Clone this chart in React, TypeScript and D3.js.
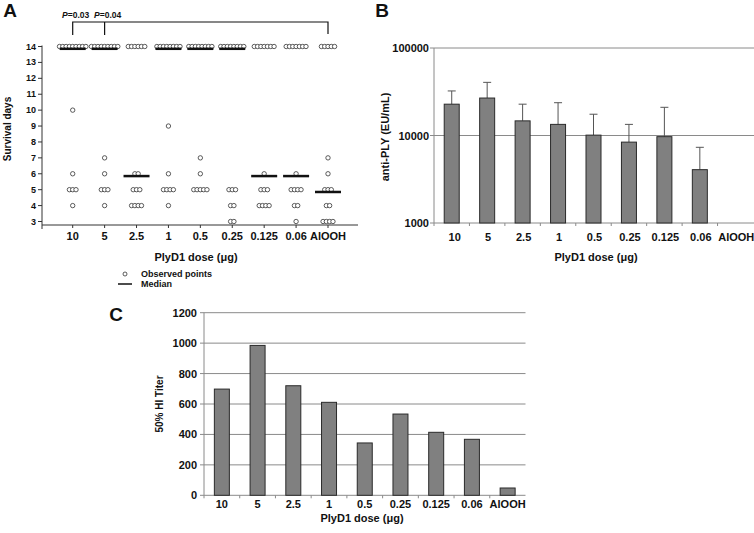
import React from "react";
import * as d3 from "d3";

const doses = ["10", "5", "2.5", "1", "0.5", "0.25", "0.125", "0.06", "AlOOH"];

// Panel A: survival days per dose group (observed points)
const surv10 = [14, 14, 14, 14, 14, 14, 14, 14, 14, 10, 6, 5, 5, 5, 4];
const surv5 = [14, 14, 14, 14, 14, 14, 14, 14, 14, 7, 6, 5, 5, 5, 4];
const surv2_5 = [14, 14, 14, 14, 14, 14, 6, 6, 5, 5, 5, 4, 4, 4, 4];
const surv1 = [14, 14, 14, 14, 14, 14, 14, 14, 9, 6, 5, 5, 5, 5, 4];
const surv0_5 = [14, 14, 14, 14, 14, 14, 14, 14, 7, 6, 5, 5, 5, 5, 5];
const surv0_25 = [14, 14, 14, 14, 14, 14, 14, 14, 5, 5, 5, 4, 4, 3, 3];
const surv0_125 = [14, 14, 14, 14, 14, 14, 14, 6, 5, 5, 5, 4, 4, 4, 4];
const surv0_06 = [14, 14, 14, 14, 14, 14, 14, 6, 5, 5, 5, 5, 4, 4, 3];
const survAl = [14, 14, 14, 14, 14, 7, 6, 5, 5, 5, 4, 4, 3, 3, 3, 3];
const survival = [surv10, surv5, surv2_5, surv1, surv0_5, surv0_25, surv0_125, surv0_06, survAl];
const survTicks = [3, 4, 5, 6, 7, 8, 9, 10, 11, 12, 13, 14];
const pLabels = ["P=0.03", "P=0.04"];

// Panel B: anti-PLY (EU/mL), geometric mean and upper error
const antiPly = [22800, 26800, 14700, 13400, 10100, 8400, 9700, 4070, null];
const antiPlyErr = [32300, 40500, 22800, 23700, 17500, 13400, 21000, 7330, null];
const logTicks = [1000, 10000, 100000];

// Panel C: 50% HI titer
const hiTiter = [698, 985, 720, 611, 344, 534, 414, 368, 48];
const hiTicks = [0, 200, 400, 600, 800, 1000, 1200];

const FONT = "'Liberation Sans', Arial, sans-serif";

function Label({ x, y, children, size = 11, anchor = "middle", rotate = false, weight = "bold" }: any) {
  return (
    <text
      x={rotate ? 0 : x}
      y={rotate ? 0 : y}
      transform={rotate ? `translate(${x},${y}) rotate(-90)` : undefined}
      textAnchor={anchor}
      dominantBaseline="central"
      fontFamily={FONT}
      fontWeight={weight}
      fontSize={size}
      fill="#111"
    >
      {children}
    </text>
  );
}

function PanelA() {
  const x = d3.scalePoint<string>().domain(doses).range([72.7, 328]);
  const y = d3.scaleLinear().domain([3, 14]).range([221.5, 46.5]);
  const spacing = 3.3;
  const axisColor = "#333";
  return (
    <g>
      <Label x={10} y={10} size={19}>A</Label>
      {/* bracket */}
      <path
        d={`M${x("10")},35V22H${x("AlOOH")}V34M${x("5")},22V35`}
        fill="none"
        stroke="#111"
        strokeWidth={1.2}
      />
      {pLabels.map((p, i) => (
        <text
          key={p}
          x={(x(doses[i]) as number) + 3}
          y={15}
          textAnchor="middle"
          dominantBaseline="central"
          fontFamily={FONT}
          fontWeight="bold"
          fontSize={8.5}
          fill="#111"
        >
          <tspan fontStyle="italic">P</tspan>
          {p.slice(1)}
        </text>
      ))}
      {/* axes */}
      <line x1={42} x2={42} y1={y(14) - 1} y2={225} stroke={axisColor} />
      <line x1={42} x2={358} y1={225} y2={225} stroke={axisColor} />
      {survTicks.map((t) => (
        <g key={t}>
          <line x1={38} x2={42} y1={y(t)} y2={y(t)} stroke={axisColor} />
          <Label x={36} y={y(t)} size={9} anchor="end">{t}</Label>
        </g>
      ))}
      <line x1={42} x2={42} y1={225} y2={229} stroke={axisColor} />
      {doses.map((d) => (
        <g key={d}>
          <line x1={x(d)} x2={x(d)} y1={225} y2={228} stroke={axisColor} />
          <Label x={x(d)} y={236}>{d}</Label>
        </g>
      ))}
      <Label x={196} y={257}>PlyD1 dose (μg)</Label>
      <Label x={7} y={129} size={10} rotate>Survival days</Label>
      {/* points */}
      {survival.map((vals, gi) => {
        const cx = x(doses[gi]) as number;
        const groups = d3.groups(vals, (v) => v);
        const med = d3.median(vals) as number;
        return (
          <g key={gi}>
            {groups.map(([v, arr]) =>
              arr.map((_, i) => (
                <circle
                  key={`${v}-${i}`}
                  cx={cx + (i - (arr.length - 1) / 2) * spacing}
                  cy={y(v)}
                  r={2.2}
                  fill="white"
                  stroke="#333"
                  strokeWidth={0.8}
                />
              ))
            )}
            <line x1={cx - 13} x2={cx + 13} y1={y(med) + 2.3} y2={y(med) + 2.3} stroke="#111" strokeWidth={2.5} />
          </g>
        );
      })}
      {/* legend */}
      <circle cx={125} cy={274} r={2} fill="white" stroke="#333" strokeWidth={0.8} />
      <Label x={141} y={274} size={9} anchor="start">Observed points</Label>
      <line x1={118} x2={132} y1={284} y2={284} stroke="#111" strokeWidth={1.5} />
      <Label x={141} y={284} size={9} anchor="start">Median</Label>
    </g>
  );
}

function PanelB() {
  const x = d3.scaleBand<string>().domain(doses).range([434, 753]);
  const y = d3.scaleLog().domain([1000, 100000]).range([223, 48]);
  const bw = 15;
  const grid = "#8a8a8a";
  return (
    <g>
      <Label x={382} y={10} size={19}>B</Label>
      {logTicks.map((t) => (
        <g key={t}>
          <line x1={434} x2={754} y1={y(t)} y2={y(t)} stroke={grid} />
          <line x1={430} x2={434} y1={y(t)} y2={y(t)} stroke={grid} />
          <Label x={429} y={y(t)} anchor="end">{t}</Label>
        </g>
      ))}
      <line x1={434} x2={434} y1={y(100000)} y2={y(1000)} stroke={grid} />
      {doses.map((d) => (
        <line key={d} x1={x(d) as number} x2={x(d) as number} y1={223} y2={226} stroke={grid} />
      ))}
      {doses.map((d, i) => {
        const v = antiPly[i];
        const e = antiPlyErr[i];
        const cx = (x(d) as number) + x.bandwidth() / 2;
        return (
          <g key={d}>
            {v != null && e != null && (
              <g>
                <line x1={cx} x2={cx} y1={y(v)} y2={y(e)} stroke="#555" />
                <line x1={cx - 4} x2={cx + 4} y1={y(e)} y2={y(e)} stroke="#555" />
                <rect x={cx - bw / 2} y={y(v)} width={bw} height={223 - y(v)} fill="#808080" stroke="#2a2a2a" strokeWidth={1} />
              </g>
            )}
            <Label x={cx + (i === 0 ? 3 : 1)} y={237}>{d}</Label>
          </g>
        );
      })}
      <Label x={596} y={257}>PlyD1 dose (μg)</Label>
      <Label x={385} y={137} rotate>anti-PLY (EU/mL)</Label>
    </g>
  );
}

function PanelC() {
  const x = d3.scaleBand<string>().domain(doses).range([204, 525.5]);
  const y = d3.scaleLinear().domain([0, 1200]).range([495.3, 312.7]);
  const bw = 15;
  const grid = "#8a8a8a";
  return (
    <g>
      <Label x={116} y={314} size={19}>C</Label>
      {hiTicks.map((t) => (
        <g key={t}>
          <line x1={204} x2={525.5} y1={y(t)} y2={y(t)} stroke={grid} />
          <line x1={200} x2={204} y1={y(t)} y2={y(t)} stroke={grid} />
          <Label x={197} y={y(t)} anchor="end">{t}</Label>
        </g>
      ))}
      <line x1={204} x2={204} y1={y(1200)} y2={y(0)} stroke={grid} />
      {doses.map((d) => (
        <line key={d} x1={x(d) as number} x2={x(d) as number} y1={y(0)} y2={y(0) + 3} stroke={grid} />
      ))}
      {doses.map((d, i) => {
        const cx = (x(d) as number) + x.bandwidth() / 2;
        const v = hiTiter[i];
        return (
          <g key={d}>
            <rect x={cx - bw / 2} y={y(v)} width={bw} height={y(0) - y(v)} fill="#808080" stroke="#2a2a2a" strokeWidth={1} />
            <Label x={cx} y={504}>{d}</Label>
          </g>
        );
      })}
      <Label x={362} y={518}>PlyD1 dose (μg)</Label>
      <Label x={159} y={404} size={10} rotate>50% HI Titer</Label>
    </g>
  );
}

export default function App() {
  return (
    <svg
      width={754}
      height={533}
      style={{ position: "absolute", left: 0, top: 0, background: "white" }}
    >
      <rect width={754} height={533} fill="white" />
      <PanelA />
      <PanelB />
      <PanelC />
    </svg>
  );
}
